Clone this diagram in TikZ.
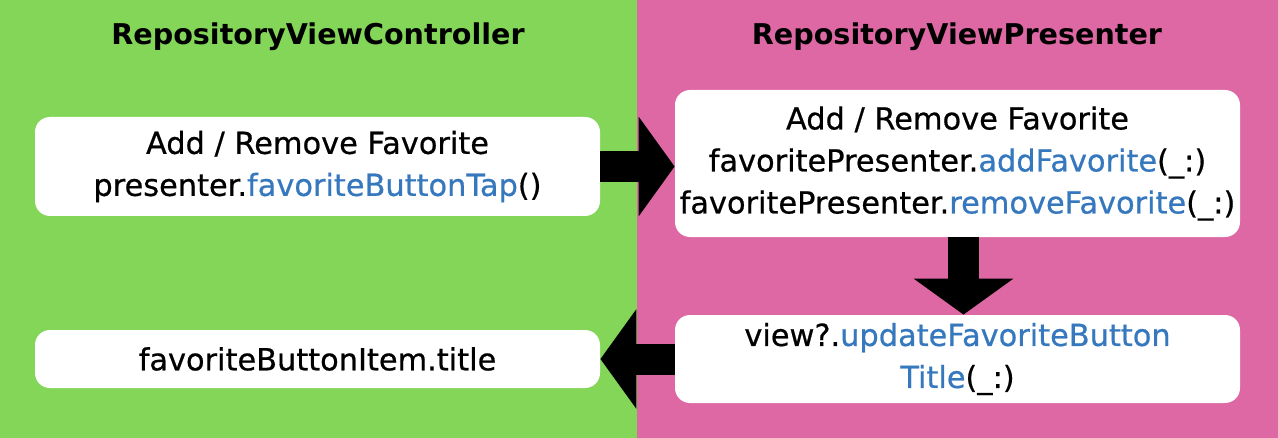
\documentclass[tikz,border=0pt]{standalone}
\usepackage{fontspec}
\setmainfont{DejaVu Sans}
\newfontfamily\boxfont{DejaVu Sans}[FakeBold=0.6]
\usetikzlibrary{arrows.meta}
\definecolor{ctrlgreen}{RGB}{132,214,89}
\definecolor{prespink}{RGB}{222,104,164}
\definecolor{callblue}{RGB}{54,120,190}
\newcommand{\call}[1]{\textcolor{callblue}{#1}}

\begin{document}
\begin{tikzpicture}[x=0.5pt,y=-0.5pt, % <- one unit per pixel
   paneltitle/.style={font=\fontsize{14.3pt}{17pt}\selectfont\bfseries},
   msgbox/.style={fill=white, rounded corners=7.5pt, align=center, inner sep=0pt,
                  minimum width=282.5pt, font=\boxfont\fontsize{15.2pt}{21pt}\selectfont},
   flow/.style={line width=15.5pt, -{Triangle[length=18pt,width=49pt]}}]
   % Panels
   \fill[ctrlgreen] (0,0) rectangle (637,438);
   \fill[prespink] (637,0) rectangle (1278,438);
   \useasboundingbox (0,0) rectangle (1278,438);
   % Panel titles
   \node[paneltitle] (ctrltitle) at (318,37) {RepositoryViewController};
   \node[paneltitle] (prestitle) at (957,37) {RepositoryViewPresenter};
   % Message boxes
   \node[msgbox, minimum height=49.5pt] (tap) at (317.5,166.5)
      {Add / Remove Favorite\\presenter.\call{favoriteButtonTap}()};
   \node[msgbox, minimum height=73.5pt] (favorite) at (957.5,163.5)
      {Add / Remove Favorite\\favoritePresenter.\call{addFavorite}(\_:)\\favoritePresenter.\call{removeFavorite}(\_:)};
   \node[msgbox, minimum height=44pt] (update) at (957.5,359)
      {view?.\call{updateFavoriteButton}\\\call{Title}(\_:)};
   \node[msgbox, minimum height=29pt] (item) at (317.5,359)
      {favoriteButtonItem.title};
   % Flow arrows
   \draw[flow] (tap.east) -- (tap.east -| favorite.west);
   \draw[flow] ([xshift=3pt]favorite.south) -- ([xshift=3pt]update.north);
   \draw[flow] (update.west) -- (update.west -| item.east);
\end{tikzpicture}
\end{document}
